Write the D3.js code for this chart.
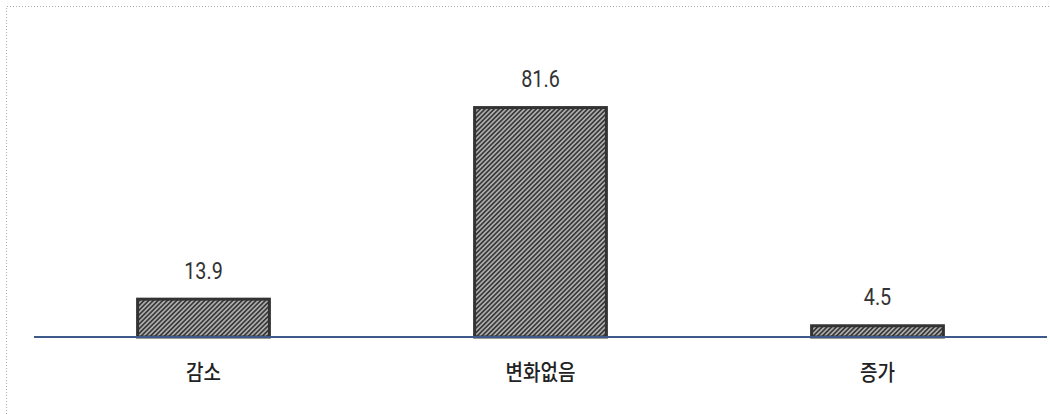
<!DOCTYPE html>
<html><head><meta charset="utf-8">
<script src="https://cdn.jsdelivr.net/npm/d3@7"></script>
<style>html,body{margin:0;padding:0;background:#fff;}</style>
</head><body>
<script>
const categories = ["감소", "변화없음", "증가"];
const values = [13.9, 81.6, 4.5];
const valueLabels = ["13.9", "81.6", "4.5"];

const W = 1050, H = 414;
const svg = d3.select("body").append("svg").attr("width", W).attr("height", H);

const defs = svg.append("defs");
const P = 3.3;
const pat = defs.append("pattern").attr("id","hatch").attr("patternUnits","userSpaceOnUse")
  .attr("width",P).attr("height",P).attr("patternTransform","rotate(45)");
pat.append("rect").attr("width",P).attr("height",P).attr("fill","#b0b0b0");
pat.append("rect").attr("x",0).attr("width",1.7).attr("height",P).attr("fill","#3a3a3a");

// dotted frame
svg.append("path").attr("d","M6.5,414 V6.5 H1050").attr("fill","none")
  .attr("stroke","#aaa").attr("stroke-width",1).attr("stroke-dasharray","1,2");

const baseY = 337;
const x = d3.scaleBand().domain(categories).range([35, 1046]).paddingInner(0.6).paddingOuter(0.3);
const y = d3.scaleLinear().domain([0, 100]).range([baseY, baseY - 283]);

svg.selectAll("rect.bar").data(values).enter().append("rect").attr("class","bar")
  .attr("x",(d,i)=>x(categories[i]) + 1.5)
  .attr("y",d=>y(d) + 1.5)
  .attr("width",x.bandwidth() - 3)
  .attr("height",d=>baseY - y(d) - 1.5)
  .attr("fill","url(#hatch)").attr("stroke","#333").attr("stroke-width",3);

svg.selectAll("text.val").data(values).enter().append("text").attr("class","val")
  .attr("x",(d,i)=>x(categories[i]) + x.bandwidth()/2)
  .attr("y",d=>y(d) - 19)
  .attr("text-anchor","middle")
  .attr("font-family","Roboto, 'Liberation Sans', sans-serif")
  .attr("font-size",23).attr("fill","#333")
  .attr("transform",(d,i)=>{const cx=x(categories[i]) + x.bandwidth()/2; return `translate(${cx},0) scale(0.86,1) translate(${-cx},0)`;})
  .text((d,i)=>valueLabels[i]);

// axis
const axis = svg.append("g").attr("transform",`translate(0,${baseY})`)
  .call(d3.axisBottom(x).tickSize(0).tickPadding(0));
axis.select(".domain").attr("stroke","#3d5a8a").attr("stroke-width",2).attr("d","M34,0H1047");
axis.selectAll(".tick text").attr("dy",null).attr("y",0)
  .attr("font-family","'Noto Sans CJK KR', sans-serif")
  .attr("font-size",19).attr("font-weight","500").attr("fill","#222")
  .attr("transform","translate(0,43) scale(1,1.15)");
</script>
</body></html>
